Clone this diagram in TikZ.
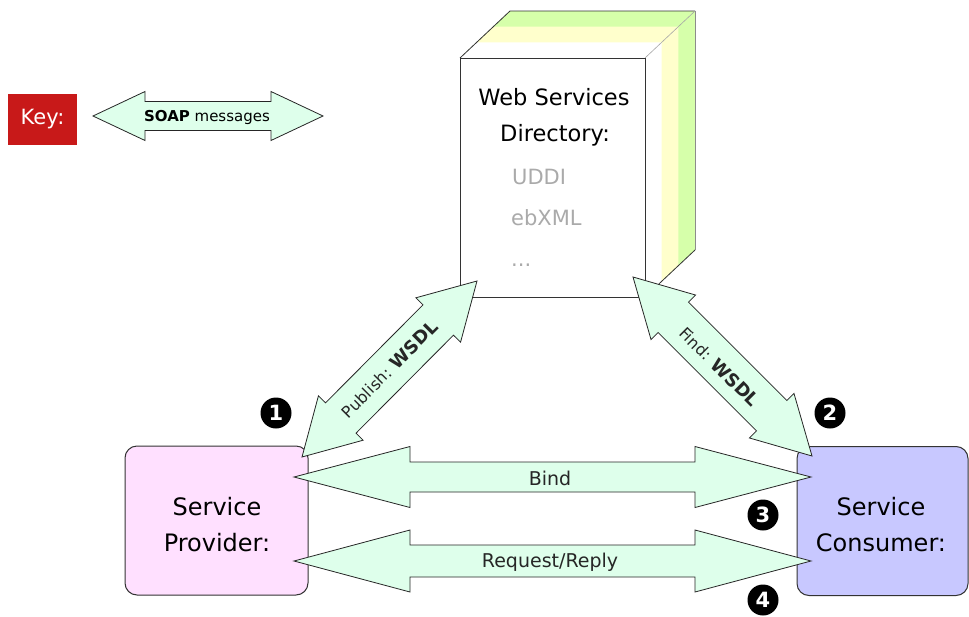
\documentclass[tikz,border=0pt]{standalone}
\usepackage{fontspec}
\setmainfont{DejaVu Sans}
\usetikzlibrary{calc}
\definecolor{arrowfill}{RGB}{222,255,235}
\definecolor{provfill}{RGB}{255,224,255}
\definecolor{consfill}{RGB}{200,200,255}
\definecolor{keyred}{RGB}{200,25,25}
\definecolor{dirgreen}{RGB}{214,255,170}
\definecolor{diryellow}{RGB}{255,255,204}
\definecolor{txtgray}{RGB}{170,170,170}
\newcommand{\dblarrow}[5]{%
  \coordinate (da1) at ($(#1)!#5!(#2)$);
  \coordinate (da2) at ($(#2)!#5!(#1)$);
  \draw[soapstyle] (#1) -- ($(da1)!#4!90:(#2)$) -- ($(da1)!#3!90:(#2)$)
    -- ($(da2)!#3!-90:(#1)$) -- ($(da2)!#4!-90:(#1)$) -- (#2)
    -- ($(da2)!#4!90:(#1)$) -- ($(da2)!#3!90:(#1)$)
    -- ($(da1)!#3!-90:(#2)$) -- ($(da1)!#4!-90:(#2)$) -- cycle;
}
\newcommand{\fs}[1]{\fontsize{#1}{#1}\selectfont}
\begin{document}
\begin{tikzpicture}[x=1pt,y=-1pt,
  soapstyle/.style={fill=arrowfill,draw=black!85,line width=0.8pt,line join=miter},
  partybox/.style={draw=black!80,line width=1pt,rounded corners=12pt,minimum width=183pt,minimum height=149pt,inner sep=0pt},
  partytext/.style={font=\fs{24},align=center},
  numdot/.style={circle,fill=black,text=white,minimum size=31pt,inner sep=0pt,font=\bfseries\fs{21}},
  dirline/.style={draw=black!80,line width=0.8pt},
  lbl/.style={font=\fs{19},text=black!85}]
\useasboundingbox (0,0) rectangle (969,616);
\fill[white] (0,0) rectangle (969,616);

% key
\node[fill=keyred,minimum width=69pt,minimum height=51pt,inner sep=0pt,text=white,font=\fs{21}] (key) at (42.5,119.5) {Key:};
\coordinate (kL) at (93,116);
\coordinate (kR) at (323,116);
\dblarrow{kL}{kR}{14.5pt}{24.5pt}{52pt}
\node[font=\fs{15}] (keytxt) at (207,117) {\textbf{SOAP} messages};

% directory
\fill[dirgreen] (460,58) -- (510,11) -- (695,11) -- (695,250) -- (645,297) -- cycle;
\fill[diryellow] (460,58) -- (493.3,26.7) -- (678.3,26.7) -- (678.3,265.7) -- (645,297) -- cycle;
\fill[white] (460,58) -- (476.7,42.3) -- (661.7,42.3) -- (661.7,281.3) -- (645,297) -- cycle;
\draw[dirline] (460,58) -- (510,11) -- (695,11);
\draw[draw=black!45,line width=0.8pt] (695,11) -- (695,250);
\draw[dirline] (695,250) -- (645,297);
\draw[draw=black!35,line width=0.6pt] (645,58) -- (695,11);
\node[draw=black!80,line width=0.8pt,fill=white,minimum width=185pt,minimum height=239pt,inner sep=0pt] (dir) at (552.5,177.5) {};
\node[font=\fs{22.5}] (dirt1) at (554,97) {Web Services};
\node[font=\fs{22.5}] (dirt2) at (555,135) {Directory:};
\node[font=\fs{21},text=txtgray,anchor=west,inner sep=0pt] (uddi) at (512,177) {UDDI};
\node[font=\fs{21},text=txtgray,anchor=west,inner sep=0pt] (ebxml) at (511,218) {ebXML};
\node[font=\fs{21},text=txtgray,anchor=west,inner sep=0pt] (dots) at (511,265) {...};

% parties
\node[partybox,fill=provfill] (prov) at (216.5,520.5) {};
\node[partytext] (provt) at (217,525) {Service\\[12pt]Provider:};
\node[partybox,fill=consfill,minimum width=171pt] (cons) at (882.5,521) {};
\node[partytext] (const) at (881,525) {Service\\[12pt]Consumer:};

% arrows
\coordinate (pubA) at (302,457);
\coordinate (pubB) at (477,281);
\dblarrow{pubA}{pubB}{21.5pt}{31.5pt}{55pt}
\coordinate (findA) at (633,277);
\coordinate (findB) at (812,456);
\dblarrow{findA}{findB}{21.5pt}{31.5pt}{57pt}
\coordinate (bindA) at (294,477);
\coordinate (bindB) at (811,477);
\dblarrow{bindA}{bindB}{15pt}{30.5pt}{116pt}
\coordinate (reqA) at (294,561);
\coordinate (reqB) at (811,561);
\dblarrow{reqA}{reqB}{16pt}{31pt}{116pt}

\node[lbl] (bindt) at (550,478) {Bind};
\node[lbl] (reqt) at (550,562) {Request/Reply};
\node[rotate=45,text=black!85,inner sep=0pt] (pubt) at ($(pubA)!0.5!(pubB)$) {\fs{16}Publish: \textbf{\fs{18}WSDL}};
\node[rotate=-45,text=black!85,inner sep=0pt] (findt) at ($(findA)!0.5!(findB)+(-3,0)$) {\fs{16}Find: \textbf{\fs{18}WSDL}};

% numbers
\node[numdot] (n1) at (276,413) {1};
\node[numdot] (n2) at (830,413) {2};
\node[numdot] (n3) at (763,515) {3};
\node[numdot] (n4) at (763,600) {4};
\end{tikzpicture}
\end{document}
